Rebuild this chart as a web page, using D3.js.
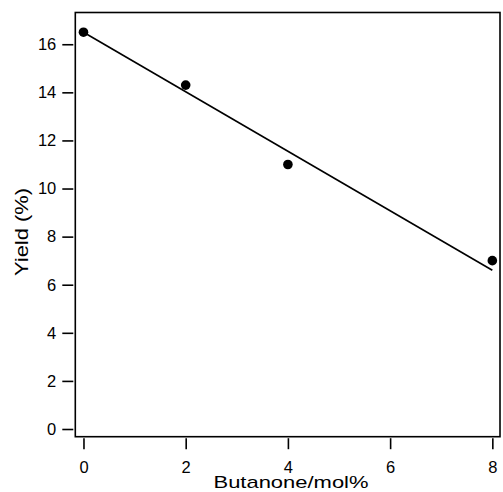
<!DOCTYPE html>
<html lang="en">
<head>
    <meta charset="UTF-8">
    <title>Yield vs Butanone</title>
    <script src="https://cdn.jsdelivr.net/npm/d3@7/dist/d3.min.js"></script>
    <style>
        body, html { margin: 0; padding: 0; background: #fff; overflow: hidden; }
        svg { display: block; }
        text { font-family: "Liberation Sans", Arial, Helvetica, sans-serif; fill: #000; }
    </style>
</head>
<body>
    <svg id="mainsvg"></svg>
    <script>
        // measured points
        const butanone = [0, 2, 4, 8];
        const yieldPct = [16.5, 14.3, 11.0, 7.0];
        // fitted line end points
        const fitX = [0, 8];
        const fitY = [16.5, 6.6];
        const xTicks = [0, 2, 4, 6, 8];
        const yTicks = [0, 2, 4, 6, 8, 10, 12, 14, 16];

        const width = 503, height = 492;
        const svg = d3.select('svg').attr('width', width).attr('height', height);

        const plot = { left: 75.3, right: 500, top: 12.5, bottom: 436.7 };

        const xScale = d3.scaleLinear().domain([-0.16, 8.15]).range([plot.left, plot.right]);
        const yScale = d3.scaleLinear().domain([-0.32, 17.32]).range([plot.bottom, plot.top]);

        // frame
        svg.append('rect')
            .attr('x', plot.left).attr('y', plot.top)
            .attr('width', plot.right - plot.left)
            .attr('height', plot.bottom - plot.top)
            .attr('fill', 'none').attr('stroke', '#000').attr('stroke-width', 1.6);

        // axes (ticks sit just outside the frame)
        const yAxis = d3.axisLeft(yScale).tickValues(yTicks).tickSize(11).tickPadding(6);
        const xAxis = d3.axisBottom(xScale).tickValues(xTicks).tickSize(11).tickPadding(12);

        const yAxisGroup = svg.append('g').attr('transform', `translate(${plot.left - 2}, 0)`).call(yAxis);
        const xAxisGroup = svg.append('g').attr('transform', `translate(0, ${plot.bottom + 1.5})`).call(xAxis);

        [xAxisGroup, yAxisGroup].forEach(g => {
            g.select('.domain').remove();
            g.selectAll('.tick line').attr('stroke', '#000').attr('stroke-width', 1.6);
            g.selectAll('.tick text')
                .attr('font-size', '16.5px')
                .attr('font-family', '"Liberation Sans", Arial, sans-serif')
                .attr('fill', '#000');
        });

        // fit line
        const line = d3.line().x(d => xScale(d[0])).y(d => yScale(d[1]));
        svg.append('path')
            .datum(fitX.map((x, i) => [x, fitY[i]]))
            .attr('d', line)
            .attr('fill', 'none').attr('stroke', '#000').attr('stroke-width', 1.6);

        // points
        svg.selectAll('circle')
            .data(butanone.map((x, i) => [x, yieldPct[i]]))
            .enter().append('circle')
            .attr('cx', d => xScale(d[0]))
            .attr('cy', d => yScale(d[1]))
            .attr('r', 4.8)
            .attr('fill', '#000');

        // axis titles
        svg.append('text')
            .attr('x', 291).attr('y', 488)
            .attr('text-anchor', 'middle')
            .attr('font-size', '17px')
            .attr('textLength', 155).attr('lengthAdjust', 'spacingAndGlyphs')
            .text('Butanone/mol%');

        svg.append('text')
            .attr('transform', 'translate(28, 232) rotate(-90)')
            .attr('text-anchor', 'middle')
            .attr('font-size', '19px')
            .attr('textLength', 88).attr('lengthAdjust', 'spacingAndGlyphs')
            .text('Yield (%)');
    </script>
</body>
</html>
